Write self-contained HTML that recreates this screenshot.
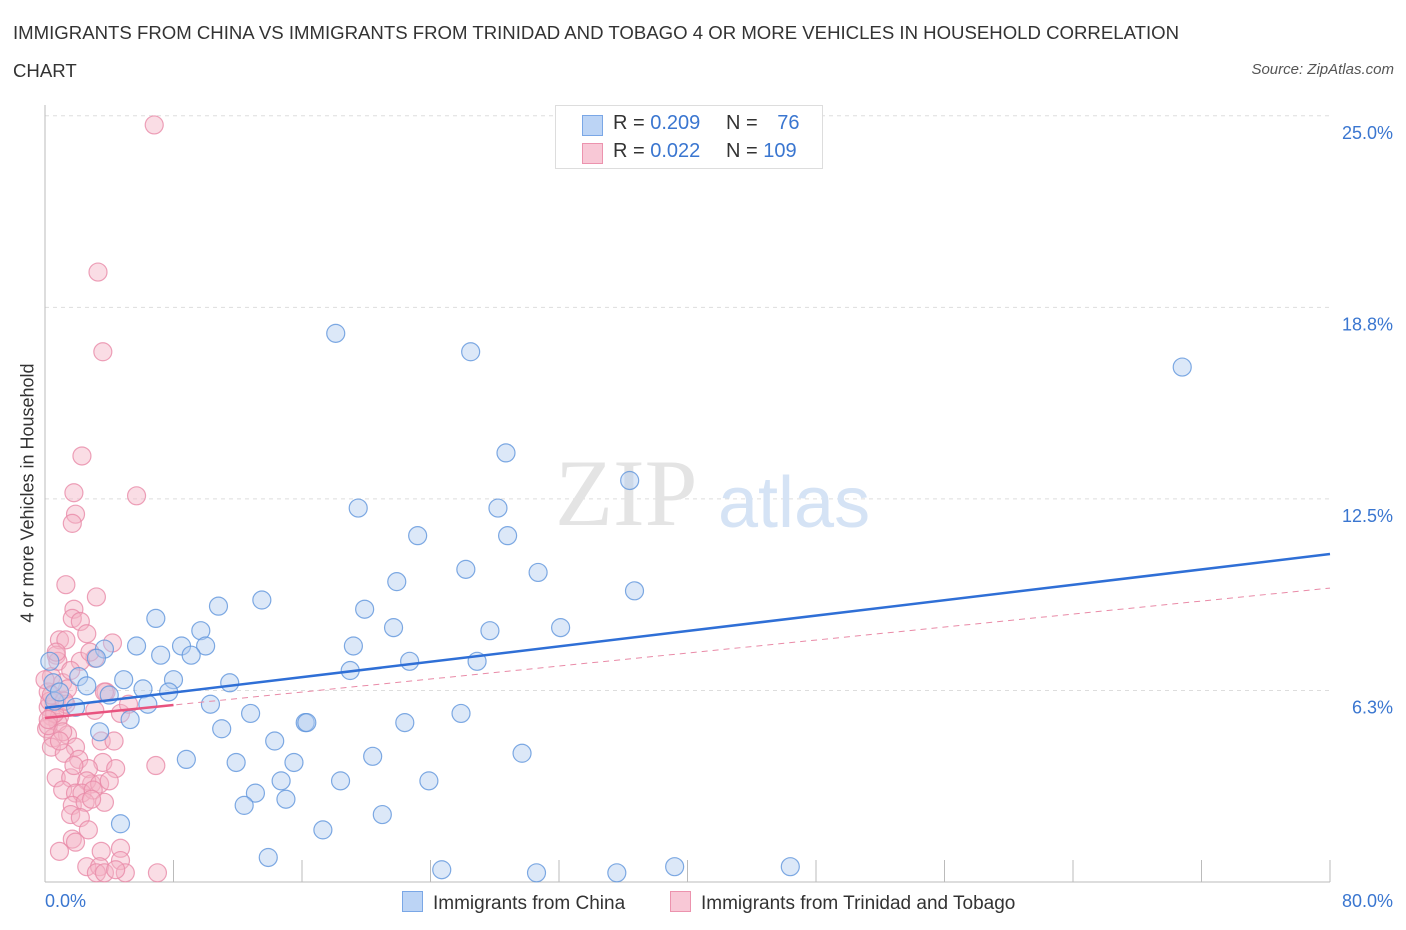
<!DOCTYPE html>
<html><head><meta charset="utf-8"><style>
body{margin:0;background:#fff;font-family:"Liberation Sans",sans-serif;}
#wrap{position:relative;width:1406px;height:930px;overflow:hidden;}
.t{position:absolute;white-space:nowrap;}
</style></head><body>
<div id="wrap">
<div class="t" style="left:13px;top:14px;font-size:18.6px;color:#333;line-height:38px;width:1195px;white-space:normal">IMMIGRANTS FROM CHINA VS IMMIGRANTS FROM TRINIDAD AND TOBAGO 4 OR MORE VEHICLES IN HOUSEHOLD CORRELATION CHART</div>
<div class="t" style="right:12px;top:61px;font-size:15px;color:#555;font-style:italic">Source: ZipAtlas.com</div>
<svg id="plot" width="1406" height="930" style="position:absolute;left:0;top:0"></svg>
<div class="t" style="left:28px;top:493px;font-size:18px;color:#333;transform:translate(-50%,-50%) rotate(-90deg)">4 or more Vehicles in Household</div>
<div class="t" style="left:555px;top:105px;width:266px;height:62px;border:1px solid #ddd;background:#fff;font-size:20px;color:#333">
 <div style="position:absolute;left:26px;top:9px;width:19px;height:19px;background:#bcd4f5;border:1px solid #7aa7e6"></div>
 <div style="position:absolute;left:57px;top:6px">R = <span style="color:#3a76d0">0.209</span></div>
 <div style="position:absolute;left:170px;top:6px">N = <span style="color:#3a76d0;margin-left:14px">76</span></div>
 <div style="position:absolute;left:26px;top:37px;width:19px;height:19px;background:#f8c8d6;border:1px solid #ec93ae"></div>
 <div style="position:absolute;left:57px;top:34px">R = <span style="color:#3a76d0">0.022</span></div>
 <div style="position:absolute;left:170px;top:34px">N = <span style="color:#3a76d0">109</span></div>
</div>
<div class="t" style="left:45px;top:891px;font-size:18px;color:#3a76d0">0.0%</div>
<div class="t" style="right:13px;top:891px;font-size:18px;color:#3a76d0">80.0%</div>
<div class="t" style="left:402px;top:891px;font-size:19px;color:#333"><span style="display:inline-block;width:19px;height:19px;background:#bcd4f5;border:1px solid #7aa7e6;vertical-align:-3px;margin-right:10px"></span>Immigrants from China</div>
<div class="t" style="left:670px;top:891px;font-size:19px;color:#333"><span style="display:inline-block;width:19px;height:19px;background:#f8c8d6;border:1px solid #ec93ae;vertical-align:-3px;margin-right:10px"></span>Immigrants from Trinidad and Tobago</div>
</div>
<script>
const yTicks=[6.25,12.5,18.75,25];
const yTickLabels=["6.3%","12.5%","18.8%","25.0%"];
const chinaX=[18.1,26.5,70.8,28.7,36.4,19.5,28.2,23.2,28.8,26.2,30.7,21.9,36.7,13.5,10.8,19.9,6.9,21.7,27.7,32.1,9.7,5.7,8.5,19.2,10.0,3.7,7.2,9.1,3.2,22.7,26.9,19.0,8.0,4.9,2.1,11.5,2.6,6.1,0.5,4.0,7.7,6.4,10.3,1.9,12.8,25.9,5.3,16.2,16.3,22.4,11.0,3.4,14.3,8.8,11.9,20.4,29.7,15.5,14.7,23.9,18.4,13.1,12.4,15.0,21.0,4.7,17.3,13.9,24.7,30.6,35.6,39.2,46.4,0.3,0.6,0.9];
const chinaY=[17.9,17.3,16.8,14.0,13.1,12.2,12.2,11.3,11.3,10.2,10.1,9.8,9.5,9.2,9.0,8.9,8.6,8.3,8.2,8.3,8.2,7.7,7.7,7.7,7.7,7.6,7.4,7.4,7.3,7.2,7.2,6.9,6.6,6.6,6.7,6.5,6.4,6.3,6.5,6.1,6.2,5.8,5.8,5.7,5.5,5.5,5.3,5.2,5.2,5.2,5.0,4.9,4.6,4.0,3.9,4.1,4.2,3.9,3.3,3.3,3.3,2.9,2.5,2.7,2.2,1.9,1.7,0.8,0.4,0.3,0.3,0.5,0.5,7.2,5.9,6.2];
const trinX=[6.8,3.3,3.6,2.3,1.8,5.7,1.9,1.7,1.3,3.2,1.8,1.7,2.2,0.9,2.6,4.2,3.1,2.2,0.7,0.4,1.1,1.4,3.8,0.7,0.2,0.4,0.9,1.3,0.8,0.1,0.5,1.4,1.9,3.5,4.3,0.4,1.2,2.1,3.6,2.7,4.4,6.9,2.9,0.7,1.6,2.6,3.4,1.1,1.9,2.3,3.0,3.7,1.7,2.5,1.6,2.2,2.7,1.7,1.9,0.9,3.5,4.7,2.6,3.4,4.7,3.2,5.0,7.0,3.7,4.4,0.2,0.3,0.6,0.2,1.1,0.8,1.6,0.0,0.4,1.2,3.1,4.7,5.2,3.7,0.2,0.9,1.8,2.8,1.3,0.7,4.0,2.9];
const trinY=[24.7,19.9,17.3,13.9,12.7,12.6,12.0,11.7,9.7,9.3,8.9,8.6,8.5,7.9,8.1,7.8,7.3,7.2,7.4,6.7,6.5,6.3,6.2,5.9,5.7,5.4,5.4,5.8,5.2,5.0,4.7,4.8,4.4,4.6,4.6,4.4,4.2,4.0,3.9,3.7,3.7,3.8,3.2,3.4,3.4,3.3,3.2,3.0,2.9,2.9,3.0,2.6,2.5,2.6,2.2,2.1,1.7,1.4,1.3,1.0,1.0,1.1,0.5,0.5,0.7,0.3,0.3,0.3,0.3,0.4,6.2,5.9,5.5,5.1,4.9,7.2,6.9,6.6,6.1,5.9,5.6,5.5,5.8,6.2,5.3,4.6,3.8,7.5,7.9,7.5,3.3,2.7];
const chinaTrend=[5.68,10.7];
const trinTrend=[5.35,9.59];
const trinSolidEnd=8;

const NS="http://www.w3.org/2000/svg";
const svg=document.getElementById('plot');
const X0=45,X1=1330,Y0=882,PXY=30.65;
const sx=v=>X0+v/80*(X1-X0);
const sy=v=>Y0-v*PXY;
function mk(tag,attrs){const e=document.createElementNS(NS,tag);for(const k in attrs)e.setAttribute(k,attrs[k]);svg.appendChild(e);return e;}
yTicks.forEach((t,i)=>{
 const g=mk('line',{x1:X0,x2:X1,y1:sy(t),y2:sy(t),stroke:'#ddd','stroke-dasharray':'4,4'});
 
 
 const tx=mk('text',{x:1393,y:sy(t)+23,'text-anchor':'end','font-size':18,fill:'#3a76d0','font-family':'Liberation Sans, sans-serif'});
 tx.textContent=yTickLabels[i];
 
 
});
const wm=mk('text',{x:555,y:525,'font-size':95,fill:'#e4e4e4','font-family':'Liberation Serif, serif'});wm.textContent='ZIP';


const wm2=mk('text',{x:718,y:527,'font-size':72,fill:'#d5e3f5','font-family':'Liberation Sans, sans-serif'});wm2.textContent='atlas';


const ya=mk('line',{x1:X0,x2:X0,y1:105,y2:Y0,stroke:'#bbb'});


const xa=mk('line',{x1:X0,x2:X1,y1:Y0,y2:Y0,stroke:'#bbb'});


for(let i=1;i<=10;i++){const tk=mk('line',{x1:sx(i*8),x2:sx(i*8),y1:Y0-22,y2:Y0,stroke:'#bbb'});

}
function pts(xs,ys,fill,stroke,name){
 const n=Math.min(xs.length,ys.length);
 for(let i=0;i<n;i++){
  const c=mk('circle',{cx:sx(xs[i]),cy:sy(ys[i]),r:9,fill:fill,'fill-opacity':0.45,stroke:stroke,'stroke-opacity':0.8,'stroke-width':1.2});
  
  
 }
}
pts(trinX,trinY,'#f5b3c6','#e98aa7','trinidad-point');
pts(chinaX,chinaY,'#b2cdf0','#5f95dc','china-point');
const td=mk('line',{x1:sx(0),y1:sy(trinTrend[0]),x2:sx(80),y2:sy(trinTrend[1]),stroke:'#e98aa7','stroke-width':1,'stroke-dasharray':'6,5'});


const tEnd=trinTrend[0]+(trinTrend[1]-trinTrend[0])*trinSolidEnd/80;
const ts=mk('line',{x1:sx(0),y1:sy(trinTrend[0]),x2:sx(trinSolidEnd),y2:sy(tEnd),stroke:'#e8537f','stroke-width':2.5});


const cl=mk('line',{x1:sx(0),y1:sy(chinaTrend[0]),x2:sx(80),y2:sy(chinaTrend[1]),stroke:'#2f6fd6','stroke-width':2.5});


</script>
</body></html>
